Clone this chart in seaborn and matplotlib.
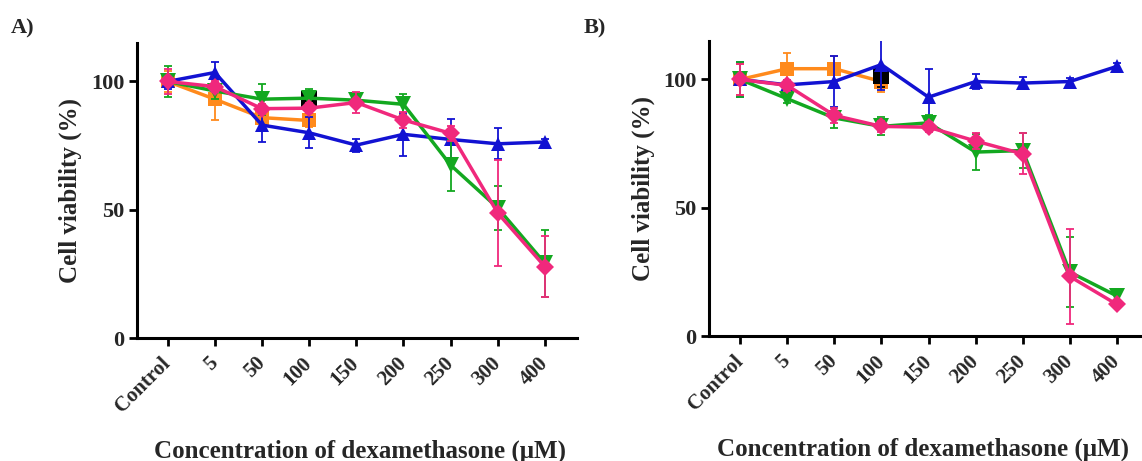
import numpy as np
import pandas as pd
import matplotlib
matplotlib.use("Agg")
import matplotlib.pyplot as plt
import matplotlib.transforms as mtransforms
import seaborn as sns

# ---------------- data ----------------
categories = ["Control", "5", "50", "100", "150", "200", "250", "300", "400"]
series_names = ["orange", "black", "blue", "green", "pink"]

# Panel A  (values, errors); None = not measured
A_orange = [100, 93.1, 85.9, 84.8, None, None, None, None, None]
A_orange_err = [4, 8, 2, 2.5, None, None, None, None, None]
A_black = [None, None, None, 93.1, None, None, None, None, None]
A_black_err = [None, None, None, 3, None, None, None, None, None]
A_blue = [100, 103.5, 83.0, 80.0, 75.2, 79.4, 77.4, 75.7, 76.4]
A_blue_err = [3, 4, 6.6, 6, 2.5, 8.5, 8, 6, 1]
A_green = [100, 96.3, 93.1, 93.5, 92.7, 91.1, 67.4, 50.7, 29.1]
A_green_err = [6, 3, 6, 3.5, 2, 4, 10, 8.5, 13]
A_pink = [100, 98.0, 89.4, 89.6, 91.8, 85.0, 79.8, 48.7, 27.8]
A_pink_err = [5, 2, 2, 2, 4, 3, 3, 20.5, 12]

# Panel B
B_orange = [100, 104.2, 104.2, 99.2, None, None, None, None, None]
B_orange_err = [6, 6, 5, 4, None, None, None, None, None]
B_black = [None, None, None, 101.2, None, None, None, None, None]
B_black_err = [None, None, None, 4, None, None, None, None, None]
B_blue = [100, 97.9, 99.2, 105.8, 93.1, 99.2, 98.6, 99.2, 105.1]
B_blue_err = [7, 2, 10, 10, 11, 3, 2.5, 1.5, 1.5]
B_green = [100, 92.5, 85.0, 81.7, 83.1, 71.7, 72.3, 24.9, 15.6]
B_green_err = [7, 1.5, 4, 3.5, 3, 7, 7, 13.5, 2.5]
B_pink = [100, 97.7, 86.0, 81.7, 81.4, 76.0, 71.0, 23.2, 12.3]
B_pink_err = [6, 2, 3, 2, 2, 3, 8, 18.6, 1.5]

panels = {
    "A)": [(A_orange, A_orange_err), (A_black, A_black_err), (A_blue, A_blue_err),
           (A_green, A_green_err), (A_pink, A_pink_err)],
    "B)": [(B_orange, B_orange_err), (B_black, B_black_err), (B_blue, B_blue_err),
           (B_green, B_green_err), (B_pink, B_pink_err)],
}

colors = {"orange": "#FF8A1C", "black": "#000000", "blue": "#1212D2",
          "green": "#13A820", "pink": "#F0287C"}
markers = {"orange": "s", "black": "s", "blue": "^", "green": "v", "pink": "D"}
msizes = {"orange": 10, "black": 12, "blue": 10, "green": 11, "pink": 9}

# ---------------- style ----------------
sns.set_style("white")
plt.rcParams["font.family"] = ["Liberation Serif", "DejaVu Serif"]
plt.rcParams["font.weight"] = "bold"

fig = plt.figure(figsize=(11.42, 4.61), dpi=100)
ax_pos = {
    "A)": [137 / 1142, 1 - 338 / 461, 440 / 1142, 295 / 461],
    "B)": [709 / 1142, 1 - 336 / 461, 431 / 1142, 295 / 461],
}
xlims = {"A)": (-0.65, 8.68), "B)": (-0.66, 8.49)}
label_x = {"A)": 11 / 1142, "B)": 584 / 1142}
ylabel_x = {"A)": -(137 - 82) / 440, "B)": -(709 - 655) / 431}

for pname, data in panels.items():
    ax = fig.add_axes(ax_pos[pname])
    rows = []
    for name, (vals, errs) in zip(series_names, data):
        for i, (v, e) in enumerate(zip(vals, errs)):
            if v is not None:
                rows.append({"pos": i, "value": v, "err": e, "series": name})
    df = pd.DataFrame(rows)
    for k, name in enumerate(series_names):
        sub = df[df.series == name]
        ax.errorbar(sub.pos, sub.value, yerr=sub.err, fmt="none",
                    ecolor=colors[name], elinewidth=1.3, capsize=3.2,
                    capthick=1.3, zorder=2 + 2 * k)
        sns.lineplot(data=sub, x="pos", y="value", color=colors[name],
                     marker=markers[name], markersize=msizes[name],
                     markeredgewidth=0, linewidth=2.5, ax=ax,
                     zorder=3 + 2 * k, legend=False, errorbar=None)

    ax.set_xlim(*xlims[pname])
    ax.set_ylim(0, 115)
    ax.set_yticks([0, 50, 100])
    ax.set_xticks(range(len(categories)))
    ax.set_xticklabels(categories, rotation=45, ha="right", va="center",
                       rotation_mode="anchor", fontsize=15, fontweight="bold")
    offset = mtransforms.ScaledTranslation(4 / 100, 0, fig.dpi_scale_trans)
    for lab in ax.get_xticklabels():
        lab.set_transform(lab.get_transform() + offset)
    for lab in ax.get_yticklabels():
        lab.set_fontsize(16)
        lab.set_fontweight("bold")
    for s in ["top", "right"]:
        ax.spines[s].set_visible(False)
    for s in ["left", "bottom"]:
        ax.spines[s].set_linewidth(2.2)
        ax.spines[s].set_color("black")
    ax.tick_params(axis="both", direction="out", length=6, width=2.0,
                   color="black", left=True, bottom=True)
    ax.tick_params(axis="y", pad=3)
    ax.tick_params(axis="x", pad=10)
    ax.set_xlabel("Concentration of dexamethasone (μM)", fontsize=18,
                  fontweight="bold")
    ax.xaxis.set_label_coords(0.975, -0.345)
    ax.xaxis.label.set_ha("right")
    ax.set_ylabel("Cell viability (%)", fontsize=18, fontweight="bold")
    ax.yaxis.set_label_coords(ylabel_x[pname], 0.5)
    ax.grid(False)
    fig.text(label_x[pname], 1 - 33 / 461, pname, fontsize=16,
             fontweight="bold", ha="left", va="baseline")

fig.savefig("out.png", dpi=100)
